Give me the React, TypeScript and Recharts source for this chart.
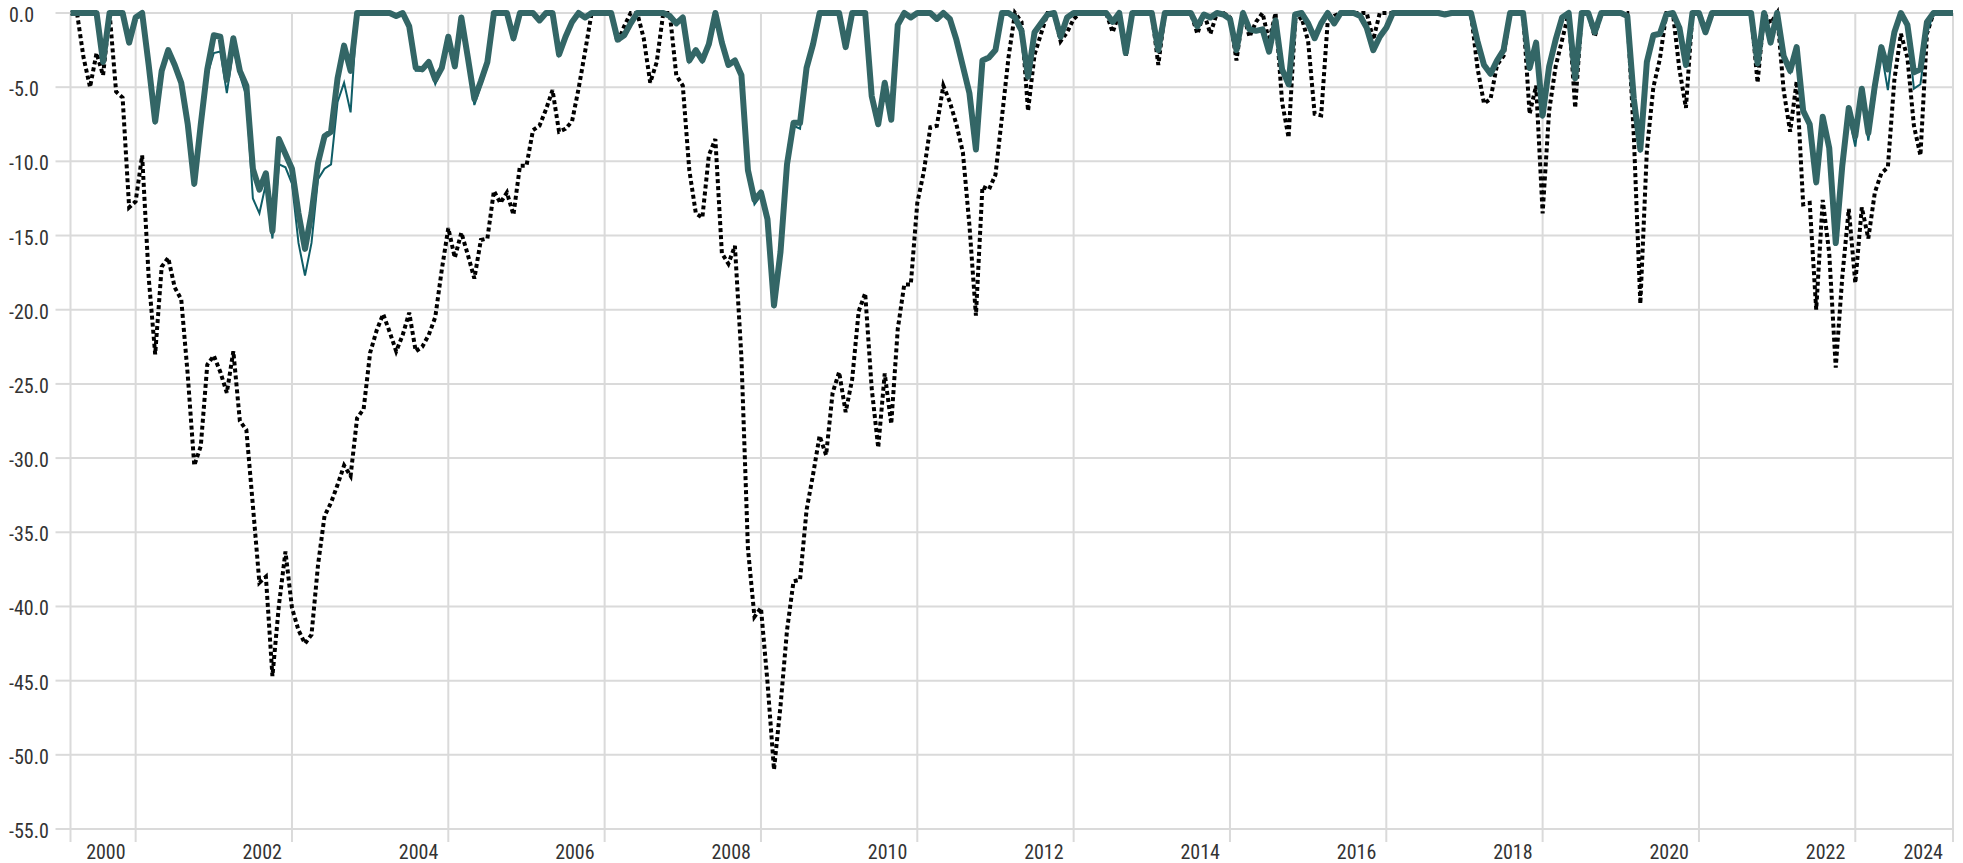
import { LineChart, Line, XAxis, YAxis, CartesianGrid } from "recharts";

// monthly drawdown (%), Feb 2000 .. Mar 2024, one row per calendar year
const fund = [
  0, 0, 0, 0, 0, -3.3, 0, 0, 0, -2.0, -0.3,
  0, -3.5, -7.3, -3.9, -2.5, -3.5, -4.7, -7.5, -11.5, -7.5, -3.8, -1.5,
  -1.6, -4.5, -1.7, -3.9, -4.9, -10.5, -11.9, -10.8, -14.7, -8.5, -9.5, -10.5,
  -13.5, -15.9, -13.5, -10.1, -8.3, -8.0, -4.4, -2.2, -3.9, 0, 0, 0,
  0, 0, 0, -0.2, 0, -0.9, -3.7, -3.8, -3.3, -4.5, -3.7, -1.6,
  -3.6, -0.3, -3.0, -5.8, -4.6, -3.3, 0, 0, 0, -1.7, 0, 0,
  0, -0.5, 0, 0, -2.8, -1.6, -0.6, 0, -0.3, 0, 0, 0,
  0, -1.8, -1.5, -0.7, 0, 0, 0, 0, 0, -0.2, -0.7, -0.3,
  -3.2, -2.5, -3.2, -2.1, 0, -2.0, -3.5, -3.2, -4.2, -10.6, -12.6, -12.1,
  -13.9, -19.7, -16.1, -10.2, -7.4, -7.4, -3.7, -2.1, 0, 0, 0, 0,
  -2.3, 0, 0, 0, -5.6, -7.5, -4.7, -7.2, -0.8, 0, -0.3, 0,
  0, 0, -0.4, 0, -0.4, -1.8, -3.6, -5.4, -9.2, -3.2, -3.0, -2.5,
  0, 0, -0.3, -1.2, -4.3, -1.3, -0.7, -0.1, 0, -1.6, -0.3, 0,
  0, 0, 0, 0, 0, -0.6, 0, -2.7, 0, 0, 0, 0,
  -2.5, 0, 0, 0, 0, 0, -0.9, -0.1, -0.3, 0, -0.1, -0.4,
  -2.5, 0, -1.1, -1.2, -1.1, -2.6, -0.5, -3.8, -4.8, -0.1, 0, -0.7,
  -1.7, -0.7, 0, -0.7, 0, 0, 0, -0.2, -1.0, -2.5, -1.6, -1.0,
  0, 0, 0, 0, 0, 0, 0, 0, -0.1, 0, 0, 0,
  0, -1.9, -3.5, -4.1, -3.2, -2.5, 0, 0, 0, -3.7, -2.0, -6.9,
  -3.6, -1.8, -0.3, 0, -4.4, 0, 0, -1.3, 0, 0, 0, 0,
  -0.2, -5.8, -9.2, -3.3, -1.5, -1.4, -0.1, 0, -1.0, -3.5, 0, 0,
  -1.3, 0, 0, 0, 0, 0, 0, 0, -3.4, 0, -2.0, 0,
  -2.9, -3.9, -2.3, -6.6, -7.5, -11.4, -7.0, -9.1, -15.5, -10.3, -6.4, -8.3,
  -5.1, -8.1, -4.9, -2.3, -3.8, -1.3, 0, -0.8, -4.0, -3.8, -0.6, 0,
  0, 0, 0,
];

const category = [
  0, 0, 0, 0, 0, -3.4, 0, 0, 0, -2.0, -0.3,
  0, -3.7, -7.5, -4.0, -2.6, -3.6, -4.9, -7.8, -11.7, -8.0, -4.2, -2.7,
  -2.6, -5.4, -2.4, -4.2, -5.6, -12.5, -13.5, -11.5, -15.2, -10.2, -10.4, -11.5,
  -15.5, -17.7, -15.5, -11.2, -10.5, -10.2, -6.0, -4.7, -6.7, 0, 0, 0,
  0, 0, 0, -0.2, 0, -0.9, -3.9, -3.9, -3.4, -4.8, -3.8, -1.7,
  -3.7, -0.3, -3.2, -6.2, -4.9, -3.6, 0, 0, 0, -1.7, 0, 0,
  0, -0.5, 0, 0, -2.8, -1.6, -0.6, 0, -0.3, 0, 0, 0,
  0, -1.8, -1.5, -0.7, 0, 0, 0, 0, 0, -0.2, -0.7, -0.3,
  -3.3, -2.6, -3.3, -2.2, 0, -2.1, -3.6, -3.3, -4.3, -10.9, -12.9, -12.3,
  -14.2, -19.9, -16.3, -10.4, -7.6, -7.8, -3.9, -2.2, 0, 0, 0, 0,
  -2.3, 0, 0, 0, -5.6, -7.5, -4.7, -7.2, -0.8, 0, -0.3, 0,
  0, 0, -0.4, 0, -0.4, -1.8, -3.6, -5.4, -9.2, -3.2, -3.0, -2.5,
  0, 0, -0.3, -1.2, -4.3, -1.3, -0.7, -0.1, 0, -1.6, -0.3, 0,
  0, 0, 0, 0, 0, -0.6, 0, -2.7, 0, 0, 0, 0,
  -2.5, 0, 0, 0, 0, 0, -0.9, -0.1, -0.3, 0, -0.1, -0.4,
  -2.5, 0, -1.1, -1.2, -1.1, -2.6, -0.5, -3.8, -4.8, -0.1, 0, -0.7,
  -1.7, -0.7, 0, -0.7, 0, 0, 0, -0.2, -1.0, -2.5, -1.6, -1.0,
  0, 0, 0, 0, 0, 0, 0, 0, -0.1, 0, 0, 0,
  0, -1.9, -3.5, -4.1, -3.2, -2.5, 0, 0, 0, -3.9, -2.1, -7.1,
  -3.6, -1.8, -0.3, 0, -4.4, 0, 0, -1.3, 0, 0, 0, 0,
  -0.2, -6.0, -9.4, -3.4, -1.6, -1.4, -0.1, 0, -1.0, -3.6, 0, 0,
  -1.3, 0, 0, 0, 0, 0, 0, 0, -3.4, 0, -2.0, 0,
  -3.0, -4.0, -2.5, -6.8, -7.6, -11.6, -7.2, -9.3, -15.7, -10.8, -7.0, -9.0,
  -5.4, -8.6, -5.6, -2.6, -5.2, -1.5, -0.2, -1.0, -5.1, -4.8, -1.4, 0,
  0, 0, 0,
];

const benchmark = [
  0, 0, -3.0, -5.0, -2.7, -4.2, 0, -5.3, -5.7, -13.1, -12.7,
  -9.6, -17.8, -23.0, -17.1, -16.5, -18.5, -19.3, -24.4, -30.5, -29.2, -23.7, -23.1,
  -24.2, -25.6, -22.8, -27.5, -28.1, -33.2, -38.4, -38.0, -44.7, -39.9, -36.3, -40.1,
  -41.6, -42.5, -41.9, -37.2, -33.9, -33.0, -31.8, -30.5, -31.2, -27.3, -26.7, -22.9,
  -21.4, -20.3, -21.5, -22.8, -21.7, -20.2, -22.8, -22.5, -21.7, -20.5, -17.3, -14.5,
  -16.5, -14.8, -16.3, -17.9, -15.3, -15.2, -12.0, -12.8, -12.1, -13.6, -10.3, -10.3,
  -7.9, -7.6, -6.5, -5.2, -8.0, -7.8, -7.3, -5.1, -2.6, 0, 0, 0,
  0, -2.0, -0.9, 0, 0, -1.7, -4.7, -3.3, 0, 0, -4.2, -4.9,
  -10.6, -13.5, -13.8, -9.6, -8.5, -16.2, -16.9, -15.7, -23.2, -36.1, -40.7, -40.1,
  -45.1, -51.0, -46.7, -41.6, -38.3, -38.2, -33.5, -31.1, -28.5, -29.8, -25.6, -24.2,
  -26.9, -24.7, -20.1, -18.9, -25.3, -29.3, -24.3, -27.7, -21.3, -18.3, -18.3, -12.8,
  -10.7, -7.7, -7.6, -4.9, -6.0, -7.5, -9.4, -14.3, -20.4, -11.7, -11.9, -10.9,
  -7.0, -3.0, 0, -0.6, -6.6, -2.8, -1.4, 0, 0, -1.9, -1.3, -0.4,
  0, 0, 0, 0, 0, -1.3, 0, -2.9, 0, 0, 0, 0,
  -3.5, 0, 0, 0, 0, 0, -1.4, 0, -1.4, 0, 0, -0.3,
  -3.2, 0, -1.6, -0.6, 0, -1.9, 0, -6.0, -8.4, -0.6, -0.3, -1.9,
  -6.8, -6.9, -0.6, -0.2, 0, 0, 0, 0, 0, -1.8, 0, 0,
  0, 0, 0, 0, 0, 0, 0, 0, 0, 0, 0, 0,
  0, -3.7, -6.1, -5.8, -3.5, -2.9, 0, 0, 0, -6.8, -4.9, -13.5,
  -6.6, -3.6, -1.8, 0, -6.4, 0, 0, -1.6, 0, 0, 0, 0,
  0, -8.3, -19.6, -9.3, -5.0, -3.1, 0, 0, -3.8, -6.4, 0, 0,
  -1.0, 0, 0, 0, 0, 0, 0, 0, -4.7, 0, -0.7, 0,
  -5.2, -8.0, -4.6, -12.9, -12.8, -20.0, -12.6, -16.2, -23.9, -17.8, -13.2, -18.2,
  -13.1, -15.2, -12.1, -10.8, -10.4, -4.5, -1.4, -3.0, -7.6, -9.6, -1.4, 0,
  0, 0, 0,
];

// month categories, Feb 2000 onwards
const months: string[] = [];
for (let k = 0; k < fund.length; k++) {
  const y = 2000 + Math.floor((k + 1) / 12);
  const m = ((k + 1) % 12) + 1;
  months.push(`${y}-${String(m).padStart(2, "0")}`);
}

const tickMonths = ["2000-02", "2000-12", "2002-12", "2004-12", "2006-12", "2008-12", "2010-12", "2012-12", "2014-12", "2016-12", "2018-12", "2020-12", "2022-12", "2024-03"];
const tickLabels = ["", "2000", "2002", "2004", "2006", "2008", "2010", "2012", "2014", "2016", "2018", "2020", "2022", "2024"];
const yTicks = [0, -5, -10, -15, -20, -25, -30, -35, -40, -45, -50, -55];

const data = months.map((m, i) => ({
  i,
  month: m,
  fund: fund[i],
  category: category[i],
  benchmark: benchmark[i],
}));

const xTicks = tickMonths.map((m) => months.indexOf(m));

const FONT = "'Liberation Sans Narrow', 'Roboto Condensed', 'DejaVu Sans Condensed', sans-serif";
const GRID = "#dadada";

const XTick = ({ x, y, payload }: any) => {
  const label = tickLabels[xTicks.indexOf(payload.value)] || "";
  return (
    <text x={x - 10} y={y + 8} textAnchor="end" dominantBaseline="central" fontFamily={FONT} fontSize={20} fill="#333">
      {label}
    </text>
  );
};

const YTick = ({ y, payload }: any) => (
  <text x={9} y={y + 2} textAnchor="start" dominantBaseline="central" fontFamily={FONT} fontSize={20} fill="#333">
    {payload.value.toFixed(1)}
  </text>
);

export default function App() {
  return (
    <div style={{ position: "absolute", left: 0, top: 0, width: 1963, height: 863, background: "#fff" }}>
      <LineChart width={1963} height={863} data={data} margin={{ top: 13, right: 10, bottom: 0, left: 0 }}>
        <CartesianGrid stroke={GRID} strokeWidth={2} />
        <XAxis
          dataKey="i"
          type="number"
          domain={[0, data.length - 1]}
          ticks={xTicks}
          interval={0}
          height={34}
          axisLine={false}
          tickSize={13}
          tickLine={{ stroke: GRID, strokeWidth: 2 }}
          tick={<XTick />}
        />
        <YAxis
          type="number"
          domain={[-55, 0]}
          ticks={yTicks}
          interval={0}
          width={70.5}
          axisLine={false}
          tickSize={15}
          tickLine={{ stroke: GRID, strokeWidth: 2 }}
          tick={<YTick />}
        />
        <Line dataKey="benchmark" type="linear" stroke="#000" strokeWidth={4} strokeDasharray="4 3" dot={false} activeDot={false} isAnimationActive={false} />
        <Line dataKey="category" type="linear" stroke="#0f5d66" strokeWidth={2} dot={false} activeDot={false} isAnimationActive={false} />
        <Line dataKey="fund" type="linear" stroke="#336666" strokeWidth={6} strokeLinejoin="round" dot={false} activeDot={false} isAnimationActive={false} />
      </LineChart>
    </div>
  );
}
